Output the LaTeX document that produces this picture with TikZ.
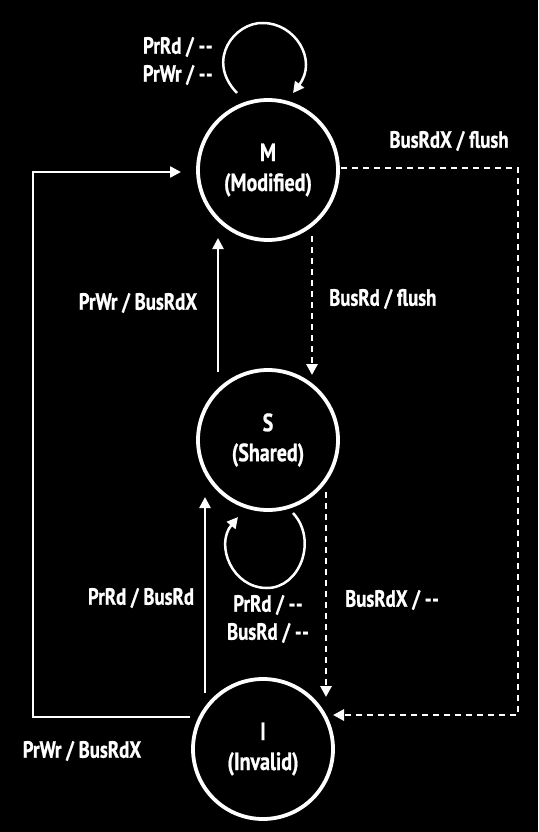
\documentclass[tikz,border=0pt]{standalone}
\usepackage{fontspec}
\setmainfont{PT Sans}[FakeStretch=0.8,BoldFeatures={FakeBold=0.8}]
\usetikzlibrary{arrows.meta}
\newcommand{\dd}{-\kern0.5pt-}
\begin{document}
\begin{tikzpicture}[x=1pt,y=-1pt,
  state/.style={circle,draw=white,line width=3.8pt,minimum size=140pt,inner sep=0pt,align=center,text=white,font=\bfseries\fontsize{25}{30}\selectfont},
  lbl/.style={text=white,font=\bfseries\fontsize{23.5}{28}\selectfont,inner sep=0pt,align=center},
  tr/.style={draw=white,line width=2.5pt,-{Triangle[length=11pt,width=11pt]}},
  dtr/.style={tr,line width=2.8pt,dash pattern=on 6pt off 5pt}]
\fill[black] (0,0) rectangle (538,832);
\useasboundingbox (0,0) rectangle (538,832);
\node[state] (M) at (268,170) {M\\(Modified)};
\node[state] (S) at (268,440) {S\\(Shared)};
\node[state] (I) at (263,749) {I\\(Invalid)};
% coordinates
\coordinate (m1) at (237,93);
\coordinate (m2) at (293,93);
\coordinate (ms1) at (218,372);
\coordinate (ms2) at (218,238);
\coordinate (md1) at (312,236);
\coordinate (md2) at (312,375);
\coordinate (r0) at (341,168);
\coordinate (r1) at (518,168);
\coordinate (r2) at (518,715);
\coordinate (r3) at (333,715);
\coordinate (s1) at (293,513);
\coordinate (s2) at (238,517);
\coordinate (is1) at (205,693);
\coordinate (is2) at (205,497);
\coordinate (sd1) at (326,492);
\coordinate (sd2) at (326,697);
\coordinate (l0) at (190,717);
\coordinate (l1) at (33,717);
\coordinate (l2) at (33,172);
\coordinate (l3) at (181,172);
% M self loop
\draw[tr] (m1) .. controls (205,60) and (235,22) .. (263,23) .. controls (295,23) and (318,60) .. (m2);
\node[lbl,anchor=east] (lm) at (213,61) {PrRd / \dd\\PrWr / \dd};
% M <-> S
\draw[tr] (ms1) -- (ms2);
\node[lbl] (lms) at (138,303) {PrWr / BusRdX};
\draw[dtr] (md1) -- (md2);
\node[lbl,anchor=west] (lmd) at (329,299) {BusRd / flush};
% M -> I dashed right
\draw[dtr] (r0) -- (r1) -- (r2) -- (r3);
\node[lbl] (lr) at (449,141) {BusRdX / flush};
% S self loop
\draw[tr] (s1) .. controls (318,540) and (300,588) .. (267,588) .. controls (232,588) and (215,545) .. (s2);
\node[lbl] (ls) at (268,619) {PrRd / \dd\\BusRd / \dd};
% I -> S
\draw[tr] (is1) -- (is2);
\node[lbl] (lis) at (141,598) {PrRd / BusRd};
% S -> I dashed
\draw[dtr] (sd1) -- (sd2);
\node[lbl] (lsd) at (392,600) {BusRdX / \dd};
% I -> M
\draw[tr] (l0) -- (l1) -- (l2) -- (l3);
\node[lbl] (lim) at (82,751) {PrWr / BusRdX};
\end{tikzpicture}
\end{document}
